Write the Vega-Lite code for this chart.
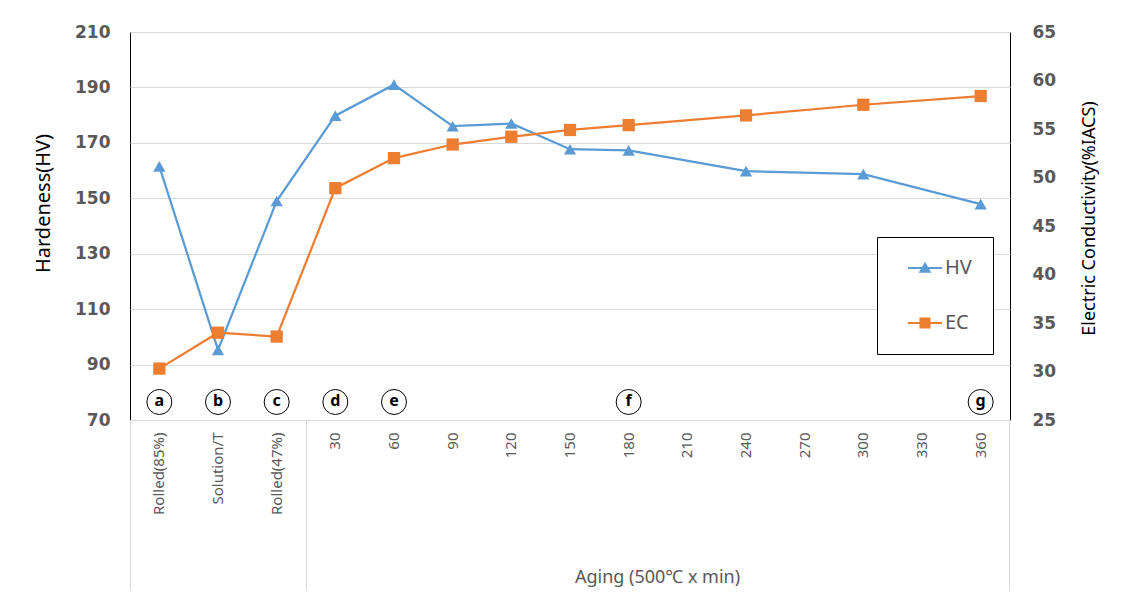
{
  "$schema": "https://vega.github.io/schema/vega-lite/v6.json",
  "width": 880,
  "height": 388,
  "autosize": "none",
  "padding": {"left": 130, "top": 32, "right": 120, "bottom": 192},
  "background": "white",
  "config": {
    "view": {"stroke": "#000000", "strokeWidth": 1},
    "font": "Noto Sans"
  },
  "datasets": {
    "hv": [
      {"cat": "Rolled(85%)", "series": "HV", "value": 161.5},
      {"cat": "Solution/T", "series": "HV", "value": 95.3},
      {"cat": "Rolled(47%)", "series": "HV", "value": 149},
      {"cat": "30", "series": "HV", "value": 179.8},
      {"cat": "60", "series": "HV", "value": 191},
      {"cat": "90", "series": "HV", "value": 176},
      {"cat": "120", "series": "HV", "value": 177},
      {"cat": "150", "series": "HV", "value": 167.7},
      {"cat": "180", "series": "HV", "value": 167.3},
      {"cat": "240", "series": "HV", "value": 159.8},
      {"cat": "300", "series": "HV", "value": 158.7},
      {"cat": "360", "series": "HV", "value": 147.9}
    ],
    "ec": [
      {"cat": "Rolled(85%)", "series": "EC", "value": 30.3},
      {"cat": "Solution/T", "series": "EC", "value": 34.0},
      {"cat": "Rolled(47%)", "series": "EC", "value": 33.6},
      {"cat": "30", "series": "EC", "value": 48.9},
      {"cat": "60", "series": "EC", "value": 52.0},
      {"cat": "90", "series": "EC", "value": 53.4},
      {"cat": "120", "series": "EC", "value": 54.2},
      {"cat": "150", "series": "EC", "value": 54.9},
      {"cat": "180", "series": "EC", "value": 55.4},
      {"cat": "240", "series": "EC", "value": 56.4},
      {"cat": "300", "series": "EC", "value": 57.5},
      {"cat": "360", "series": "EC", "value": 58.4}
    ],
    "ann": [
      {"cat": "Rolled(85%)", "letter": "a", "v": 76.5},
      {"cat": "Solution/T", "letter": "b", "v": 76.5},
      {"cat": "Rolled(47%)", "letter": "c", "v": 76.5},
      {"cat": "30", "letter": "d", "v": 76.5},
      {"cat": "60", "letter": "e", "v": 76.5},
      {"cat": "180", "letter": "f", "v": 76.5},
      {"cat": "360", "letter": "g", "v": 76.5}
    ],
    "none": []
  },
  "layer": [
    {
      "data": {"name": "hv"},
      "encoding": {
        "x": {
          "field": "cat", "type": "nominal", "bandPosition": 0.5,
          "scale": {"type": "band", "paddingInner": 0, "paddingOuter": 0,
            "domain": ["Rolled(85%)", "Solution/T", "Rolled(47%)", "30", "60", "90", "120", "150", "180", "210", "240", "270", "300", "330", "360"]},
          "axis": {
            "orient": "bottom", "labelAngle": 270, "labelFontSize": 15, "labelColor": "#595959",
            "labelPadding": 12, "ticks": false, "domain": true, "domainColor": "#D9D9D9", "grid": false,
            "labelFont": "Noto Sans",
            "title": "Aging (500℃ x min)", "titleFontSize": 18, "titleFontWeight": "normal", "titleColor": "#595959",
            "titleFont": "Noto Sans",
            "titleX": 527, "titleY": 157, "titleAlign": "center", "titleBaseline": "middle", "titleAngle": 0
          }
        },
        "y": {
          "field": "value", "type": "quantitative",
          "scale": {"domain": [70, 210], "nice": false, "zero": false},
          "axis": {
            "orient": "left", "values": [70, 90, 110, 130, 150, 170, 190, 210],
            "grid": true, "gridColor": "#D9D9D9", "ticks": false, "domain": false,
            "labelFontSize": 17, "labelFontWeight": "bold", "labelColor": "#595959", "labelPadding": 20,
            "labelFont": "DejaVu Sans",
            "title": "Hardeness(HV)", "titleFontSize": 20, "titleFontWeight": "normal", "titleColor": "#000000",
            "titleFont": "Noto Sans",
            "titlePadding": 21, "titleY": 171
          }
        }
      },
      "layer": [
        {"mark": {"type": "line", "strokeWidth": 2.25, "color": "#5B9BD5"}},
        {"mark": {"type": "point", "shape": "triangle-up", "filled": true, "opacity": 1, "size": 150, "color": "#5B9BD5"}}
      ]
    },
    {
      "data": {"name": "ec"},
      "encoding": {
        "x": {
          "field": "cat", "type": "nominal", "bandPosition": 0.5,
          "axis": {
            "orient": "bottom", "bandPosition": 1, "values": ["Rolled(47%)", "360"],
            "labels": false, "domain": false, "ticks": true, "tickSize": 170, "tickColor": "#D9D9D9",
            "grid": false, "title": null
          }
        },
        "y": {
          "field": "value", "type": "quantitative",
          "scale": {"domain": [25, 65], "nice": false, "zero": false},
          "axis": {
            "orient": "right", "values": [25, 30, 35, 40, 45, 50, 55, 60, 65],
            "grid": false, "ticks": false, "domain": false,
            "labelFontSize": 17, "labelFontWeight": "bold", "labelColor": "#595959", "labelPadding": 22,
            "labelFont": "DejaVu Sans",
            "title": "Electric Conductivity(%IACS)", "titleFontSize": 18, "titleFontWeight": "normal",
            "titleFont": "Noto Sans",
            "titleColor": "#000000", "titleAngle": 270, "titlePadding": 43, "titleY": 186
          }
        }
      },
      "layer": [
        {"mark": {"type": "line", "strokeWidth": 2.25, "color": "#ED7D31"}},
        {"mark": {"type": "point", "shape": "square", "filled": true, "opacity": 1, "size": 150, "color": "#ED7D31"}}
      ]
    },
    {
      "data": {"name": "ann"},
      "encoding": {
        "x": {
          "field": "cat", "type": "nominal", "bandPosition": 0.5,
          "axis": {
            "orient": "bottom", "bandPosition": 0, "values": ["Rolled(85%)"],
            "labels": false, "domain": false, "ticks": true, "tickSize": 170, "tickColor": "#D9D9D9",
            "grid": false, "title": null
          }
        },
        "y": {
          "field": "v", "type": "quantitative",
          "scale": {"domain": [70, 210], "nice": false, "zero": false},
          "axis": null
        }
      },
      "layer": [
        {"mark": {"type": "circle", "size": 625, "fill": "#ffffff", "stroke": "#000000", "strokeWidth": 1, "opacity": 1}},
        {
          "mark": {"type": "text", "fontWeight": "bold", "fontSize": 16, "font": "Noto Sans", "color": "#000000", "baseline": "middle", "align": "center", "dy": -1},
          "encoding": {"text": {"field": "letter", "type": "nominal"}}
        }
      ]
    },
    {
      "data": {"name": "none"},
      "mark": {"type": "point", "filled": true, "opacity": 1, "size": 289},
      "encoding": {
        "color": {
          "field": "series", "type": "nominal",
          "scale": {"domain": ["HV", "EC"], "range": ["#5B9BD5", "#ED7D31"]},
          "legend": {
            "orient": "none", "legendX": 747, "legendY": 205, "direction": "vertical", "title": null,
            "padding": 21, "rowPadding": 35, "symbolOffset": 17, "labelOffset": 10,
            "labelFontSize": 20, "labelColor": "#595959", "labelFont": "Noto Sans",
            "strokeColor": "#000000", "fillColor": "#ffffff", "cornerRadius": 0,
            "symbolSize": 289, "symbolOpacity": 1
          }
        },
        "shape": {
          "field": "series", "type": "nominal",
          "scale": {"domain": ["HV", "EC"], "range": [
            "M-2,-0.12H2V0.12H-2ZM0,-0.75L0.75,0.55L-0.75,0.55Z",
            "M-2,-0.12H2V0.12H-2ZM-0.65,-0.65H0.65V0.65H-0.65Z"
          ]}
        }
      }
    }
  ],
  "resolve": {"scale": {"y": "independent"}, "axis": {"x": "independent"}}
}
